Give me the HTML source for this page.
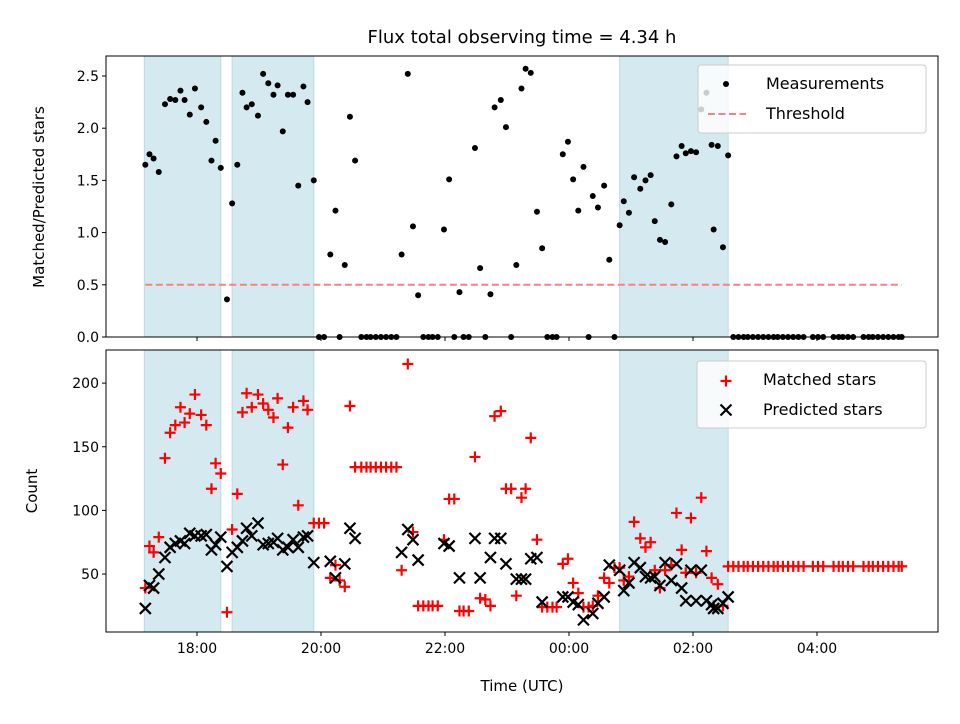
<!DOCTYPE html>
<html><head><meta charset="utf-8"><style>
body{margin:0;background:#fff;font-family:"DejaVu Sans","Liberation Sans",sans-serif}
svg text{font-family:"DejaVu Sans","Liberation Sans",sans-serif;fill:#000}
</style></head><body>
<svg id="c" width="960" height="720" xmlns="http://www.w3.org/2000/svg"></svg>
<script>
// times in minutes after 17:00 UTC
const times=[10,14,18,23,29,34,39,44,48,53,58,64,69,74,78,83,89,94,99,104,108,113,119,124,129,134,138,143,148,153,158,163,167,173,178,183,189,194,198,203,208,213,219,224,228,233,238,243,248,253,258,264,269,274,279,284,288,293,299,304,309,314,318,323,329,334,339,344,348,354,359,364,369,374,378,383,389,394,399,404,408,414,419,424,429,434,439,443,448,454,459,464,469,473,478,483,489,494,499,503,508,513,519,524,529,533,538,543,548,553,558,560,564,569,574,579,584,589,593,598,603,608,613,618,622,627,632,637,642,647,656,661,666,676,681,685,690,695,705,710,714,719,724,729,734,739,742];
const ratio=[1.65,1.75,1.71,1.58,2.23,2.28,2.27,2.36,2.27,2.13,2.38,2.20,2.06,1.69,1.88,1.62,0.36,1.28,1.65,2.34,2.20,2.23,2.12,2.52,2.43,2.32,2.41,1.97,2.32,2.32,1.45,2.40,2.25,1.50,0,0,0.79,1.21,0,0.69,2.11,1.69,0,0,0,0,0,0,0,0,0.79,2.52,1.06,0.40,0,0,0,0,1.03,1.51,0,0.43,0,0,1.81,0.66,0,0.41,2.20,2.27,2.01,0,0.69,2.38,2.57,2.53,1.20,0.85,0,0,0,1.75,1.87,1.51,1.21,1.63,0,1.35,1.24,1.45,0.74,0,1.07,1.30,1.19,1.53,1.42,1.50,1.55,1.11,0.93,0.91,1.27,1.73,1.83,1.76,1.78,1.77,2.18,2.34,1.84,1.03,1.83,0.86,1.74,0,0,0,0,0,0,0,0,0,0,0,0,0,0,0,0,0,0,0,0,0,0,0,0,0,0,0,0,0,0,0,0];
const matched=[39,72,67,79,141,161,167,181,169,176,191,175,167,117,137,129,20,85,113,177,192,181,191,184,179,173,188,136,165,181,104,186,179,90,90,90,47,57,45,40,182,134,134,134,134,134,134,134,134,134,53,215,83,25,25,25,25,25,77,109,109,21,21,21,142,31,30,25,174,178,117,117,33,110,117,157,77,24,24,24,24,58,62,43,35,24,24,25,33,47,43,55,55,45,48,91,78,71,75,53,39,53,57,98,69,51,94,51,110,68,47,25,42,25,56,56,56,56,56,56,56,56,56,56,56,56,56,56,56,56,56,56,56,56,56,56,56,56,56,56,56,56,56,56,56,56,56];
const predicted=[23,41,39,50,63,71,74,76,74,82,80,80,81,69,73,79,56,67,71,76,86,80,90,73,74,75,78,69,71,77,71,79,80,59,null,null,60,47,null,58,86,78,null,null,null,null,null,null,null,null,67,85,77,61,null,null,null,null,74,72,null,47,null,null,78,47,null,63,78,78,58,null,46,46,46,62,63,28,null,null,null,32,32,28,26,14,null,19,27,32,57,null,53,37,43,59,55,48,47,48,41,59,45,58,39,29,53,29,53,29,26,23,23,27,32,null,null,null,null,null,null,null,null,null,null,null,null,null,null,null,null,null,null,null,null,null,null,null,null,null,null,null,null,null,null,null,null,null,null];
const spans=[[9,83],[94,173],[469,574]];
const threshold=0.5;
const ratioTicks=[0,0.5,1.0,1.5,2.0,2.5];
const countTicks=[50,100,150,200];
const timeTicks=[60,180,300,420,540,660];
const timeLabels=["18:00","20:00","22:00","00:00","02:00","04:00"];

const NS="http://www.w3.org/2000/svg";
const svg=document.getElementById('c');
function mk(tag,attrs,parent){const e=document.createElementNS(NS,tag);for(const k in attrs)e.setAttribute(k,attrs[k]);(parent||svg).appendChild(e);return e;}
const L=106,R=938;
const T1=56,B1=337,T2=350,B2=632;
const xs=m=>197+(m-60)*62/60;
const y1=v=>337-v*104.4;
const y2=c=>637.7-c*1.273;

[[T1,B1],[T2,B2]].forEach(([t,b],pi)=>{
  spans.forEach((s,i)=>{
    const r=mk('rect',{x:xs(s[0]),y:t,width:xs(s[1])-xs(s[0]),height:b-t,fill:'#d4eaf0',stroke:'#b7dbe6','stroke-width':1});
    
    
  });
});

const th=mk('line',{x1:xs(times[0]),x2:xs(times[times.length-1]),y1:y1(threshold),y2:y1(threshold),stroke:'#ff7f7f','stroke-width':2,'stroke-dasharray':'7,3.5'});



times.forEach((t,i)=>{
  const c=mk('circle',{cx:xs(t),cy:y1(ratio[i]),r:3,fill:'#000'});
  
  
});
times.forEach((t,i)=>{
  if(matched[i]==null)return;
  const x=xs(t),y=y2(matched[i]);
  const p=mk('path',{d:`M${x-5.5},${y}H${x+5.5}M${x},${y-5.5}V${y+5.5}`,stroke:'#f00','stroke-width':2.2,fill:'none'});
  
  
});
times.forEach((t,i)=>{
  if(predicted[i]==null)return;
  const x=xs(t),y=y2(predicted[i]);
  const p=mk('path',{d:`M${x-5.5},${y-5.5}L${x+5.5},${y+5.5}M${x-5.5},${y+5.5}L${x+5.5},${y-5.5}`,stroke:'#000','stroke-width':2.2,fill:'none'});
  
  
});

[[T1,B1,'top'],[T2,B2,'bottom']].forEach(([t,b,n])=>{
  const f=mk('rect',{x:L,y:t,width:R-L,height:b-t,fill:'none',stroke:'#000','stroke-width':1});
  
  
  timeTicks.forEach((m,i)=>{
    const tk=mk('line',{x1:xs(m),x2:xs(m),y1:b,y2:b+4,stroke:'#000','stroke-width':1});
    
    
    if(n==='bottom'){
      const tx=mk('text',{x:xs(m),y:b+21,'text-anchor':'middle','font-size':14});
      tx.textContent=timeLabels[i];
      
      
    }
  });
});
ratioTicks.forEach(v=>{
  mk('line',{x1:L-4,x2:L,y1:y1(v),y2:y1(v),stroke:'#000'});
  const tx=mk('text',{x:L-7,y:y1(v)+5,'text-anchor':'end','font-size':14});
  tx.textContent=v.toFixed(1);
  
  
});
countTicks.forEach(v=>{
  mk('line',{x1:L-4,x2:L,y1:y2(v),y2:y2(v),stroke:'#000'});
  const tx=mk('text',{x:L-7,y:y2(v)+5,'text-anchor':'end','font-size':14});
  tx.textContent=v;
  
  
});
</script>
<svg width="960" height="720" style="position:absolute;left:0;top:0" xmlns="http://www.w3.org/2000/svg">
<text x="522" y="43" text-anchor="middle" font-size="18">Flux total observing time = 4.34 h</text>
<text transform="translate(44,197) rotate(-90)" text-anchor="middle" font-size="15">Matched/Predicted stars</text>
<text transform="translate(37,491) rotate(-90)" text-anchor="middle" font-size="15">Count</text>
<text x="522" y="691" text-anchor="middle" font-size="15">Time (UTC)</text>
<g>
<rect x="698" y="65" width="228" height="68" rx="3" fill="#fff" fill-opacity="0.8" stroke="#ccc"/>
<circle cx="726" cy="84" r="3" fill="#000"/>
<text x="766" y="89" font-size="16">Measurements</text>
<line x1="708" x2="746" y1="114" y2="114" stroke="#ff7f7f" stroke-width="2" stroke-dasharray="7,3.5"/>
<text x="766" y="119" font-size="16">Threshold</text>
</g>
<g>
<rect x="697" y="361" width="229" height="67" rx="3" fill="#fff" fill-opacity="0.8" stroke="#ccc"/>
<path d="M720.5,381H731.5M726,375.5V386.5" stroke="#f00" stroke-width="2.2"/>
<text x="763" y="385" font-size="16">Matched stars</text>
<path d="M720.5,404.5L731.5,415.5M720.5,415.5L731.5,404.5" stroke="#000" stroke-width="2.2"/>
<text x="763" y="415" font-size="16">Predicted stars</text>
</g>
</svg>
</body></html>
